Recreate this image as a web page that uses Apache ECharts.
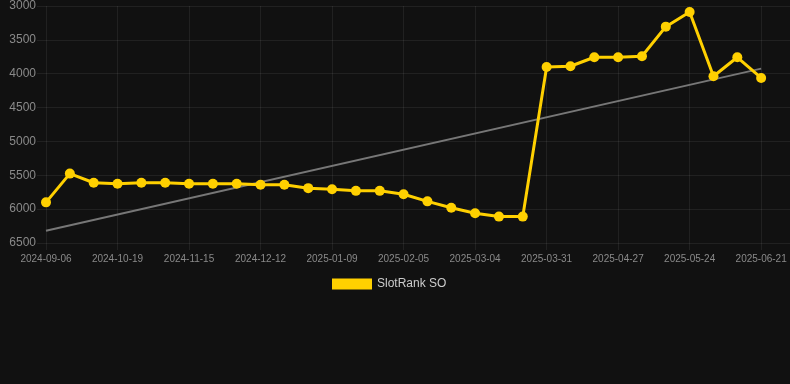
<!DOCTYPE html>
<html>
<head>
<meta charset="utf-8">
<script src="https://cdn.jsdelivr.net/npm/echarts@6/dist/echarts.min.js"></script>
<style>
  html, body { margin: 0; padding: 0; background: #111111; }
  #chart { width: 790px; height: 384px; }
</style>
</head>
<body>
<div id="chart"></div>
<script>
const dates = [
  "2024-09-06", "2024-10-01", "2024-10-10", "2024-10-19", "2024-10-28", "2024-11-06",
  "2024-11-15", "2024-11-24", "2024-12-03", "2024-12-12", "2024-12-21", "2024-12-30",
  "2025-01-09", "2025-01-18", "2025-01-27", "2025-02-05", "2025-02-14", "2025-02-23",
  "2025-03-04", "2025-03-13", "2025-03-22", "2025-03-31", "2025-04-09", "2025-04-18",
  "2025-04-27", "2025-05-06", "2025-05-15", "2025-05-24", "2025-06-02", "2025-06-11",
  "2025-06-21"
];
const rankValues = [
  5900, 5475, 5610, 5625, 5610, 5610, 5625, 5625, 5625, 5640, 5640, 5690,
  5705, 5730, 5730, 5780, 5885, 5980, 6060, 6110, 6110, 3900, 3890, 3757,
  3757, 3742, 3305, 3088, 4037, 3757, 4062
];
// trend line end points (first and last date)
const trendEnds = [6320, 3925];
const yTicks = { min: 3000, max: 6500, step: 500 };

const chart = echarts.init(document.getElementById("chart"), null, { renderer: "canvas" });

const gridColor = "rgba(255,255,255,0.07)";
const labelColor = "#8a8a8a";
const gold = "#FFD000";

const lastIdx = dates.length - 1;
const rankData = rankValues.map((v, i) => [i, v]);
const trendData = [[0, trendEnds[0]], [lastIdx, trendEnds[1]]];

chart.setOption({
  backgroundColor: "#111111",
  animation: false,
  grid: { left: 46, right: -1, top: 6, bottom: 141 },
  legend: {
    data: ["SlotRank SO"],
    top: 273,
    left: 327,
    icon: "rect",
    itemWidth: 40,
    itemHeight: 11,
    itemGap: 6,
    textStyle: { color: "#cccccc", fontSize: 12, fontFamily: "Liberation Sans, Arial, sans-serif" }
  },
  xAxis: {
    type: "value",
    min: 0,
    max: 31.21,
    interval: 3,
    axisLine: { show: false },
    axisTick: { show: true, length: 7, lineStyle: { color: gridColor } },
    splitLine: { show: true, lineStyle: { color: gridColor } },
    axisLabel: {
      color: labelColor,
      fontSize: 10,
      margin: 11,
      fontFamily: "Liberation Sans, Arial, sans-serif",
      showMaxLabel: false,
      formatter: (v) => (Number.isInteger(v) && dates[v]) ? dates[v] : ""
    }
  },
  yAxis: {
    type: "value",
    inverse: true,
    min: yTicks.min,
    max: yTicks.max,
    interval: yTicks.step,
    axisLine: { show: false },
    axisTick: { show: true, length: 9, lineStyle: { color: gridColor } },
    splitLine: { show: true, lineStyle: { color: gridColor } },
    axisLabel: {
      color: labelColor,
      fontSize: 12,
      margin: 10,
      fontFamily: "Liberation Sans, Arial, sans-serif",
      formatter: (v) => String(v)
    }
  },
  series: [
    {
      name: "Trend",
      type: "line",
      data: trendData,
      symbol: "none",
      lineStyle: { color: "#777777", width: 2 },
      z: 1
    },
    {
      name: "SlotRank SO",
      type: "line",
      data: rankData,
      symbol: "circle",
      symbolSize: 10,
      itemStyle: { color: gold },
      lineStyle: { color: gold, width: 3 },
      z: 2
    }
  ]
});

window.addEventListener("resize", () => chart.resize());
</script>
</body>
</html>
